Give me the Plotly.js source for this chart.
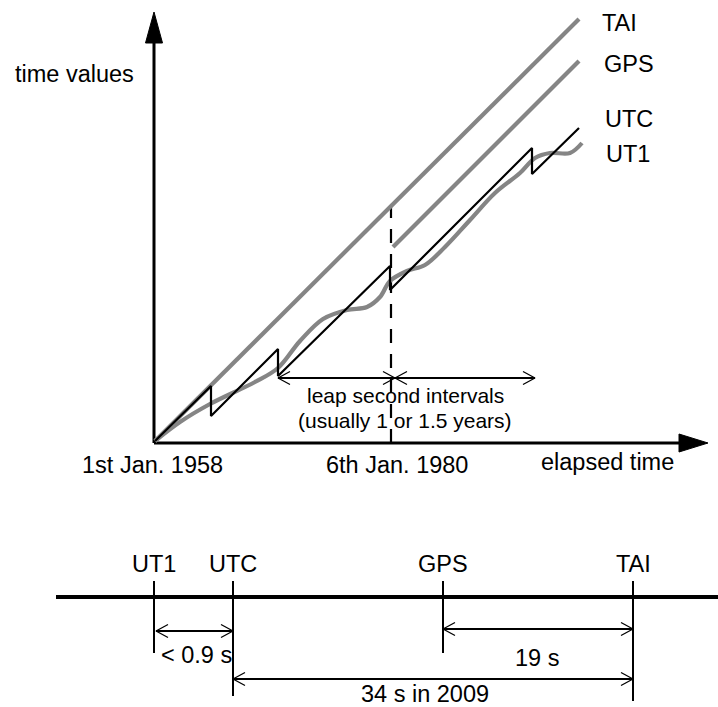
<!DOCTYPE html>
<html>
<head>
<meta charset="utf-8">
<script src="https://cdn.plot.ly/plotly-3.0.1.min.js"></script>
<style>html,body{margin:0;padding:0;background:#fff;}#chart{width:718px;height:707px;}</style>
</head>
<body>
<div id="chart"></div>
<script>
// ---- Upper diagram: time values vs elapsed time (origin = 1st Jan. 1958) ----
const taiX = [0, 424];
const taiY = [0, 422];
const gpsX = [238, 424];
const gpsY = [194, 380];
const utcX = [0, 56, 56, 123, 123, 235, 235, 377, 377, 424];
const utcY = [0, 55, 25, 92, 65, 175, 151, 293, 267, 313];
const ut1X = [0, 25, 55, 100, 123, 145, 168, 192, 212, 225, 235, 252, 270, 290, 315, 340, 365, 380, 395, 415, 427];
const ut1Y = [0, 19, 37, 59, 73, 100, 122, 131, 134, 144, 160, 170, 176, 194, 221, 248, 268, 283, 288, 288, 298];
const gpsEpochX = 236;          // 6th Jan. 1980
const gpsEpochTop = 234;
const seriesLabels = ["TAI", "GPS", "UTC", "UT1"];
const seriesLabelY = [418, 377, 322, 287];
const seriesLabelX = [445, 447, 448, 449];
const dateLabels = ["1st Jan. 1958", "6th Jan. 1980"];
const dateLabelX = [-3, 242];
const leapArrow = {y: 63, x0: 123, xm: 240, x1: 380};

// ---- Lower diagram: offsets between scales ----
const scaleNames = ["UT1", "UTC", "GPS", "TAI"];
const scalePos = [-1, 78, 288, 478];
const tickBottom = [-212, -255, -212, -260];
const offsetLabels = ["< 0.9 s", "19 s", "34 s in 2009"];
const offsetFrom = [1, 288, 78];
const offsetTo = [78, 478, 478];
const offsetY = [-190, -188, -238];
const offsetLabelX = [41, 382, 270];
const offsetLabelY = [-214, -217, -253];

const GRAY = "#858585";
const FAM = "Liberation Sans, Arial, Helvetica, sans-serif";
const FONT = {family: FAM, size: 23.5, color: "#000"};
const FONT_SMALL = {family: FAM, size: 21, color: "#000"};

const traces = [];
function line(xs, ys, color, width, dash) {
  traces.push({x: xs, y: ys, mode: "lines", type: "scatter", hoverinfo: "skip",
    line: {color: color, width: width, dash: dash || "solid"}});
}
function openHead(tipX, y, dir) {           // dir = +1 points right, -1 points left
  const L = 12, H = 6.5;
  line([tipX - dir * L, tipX, tipX - dir * L], [y + H, y, y - H], "#000", 1.3);
}
function dblArrow(x0, x1, y) {
  line([x0, x1], [y, y], "#000", 2);
  openHead(x0, y, -1);
  openHead(x1, y, 1);
}

// axes of upper diagram
line([-1, -1], [-2, 400], "#000", 3);
line([-1, 527], [-2, -2], "#000", 3);
traces.push({x: [-9.5, -1, 7.5, -9.5], y: [398, 429, 398, 398], mode: "lines", fill: "toself",
  fillcolor: "#000", line: {color: "#000", width: 1}, hoverinfo: "skip", type: "scatter"});
traces.push({x: [524, 553, 524, 524], y: [7, -2, -11, 7], mode: "lines", fill: "toself",
  fillcolor: "#000", line: {color: "#000", width: 1}, hoverinfo: "skip", type: "scatter"});

// dashed GPS epoch line
line([gpsEpochX, gpsEpochX], [-2, gpsEpochTop], "#000", 2.2, "14px,11px");

// series
line(taiX, taiY, GRAY, 4.2);
line(gpsX, gpsY, GRAY, 4.2);
traces.push({x: ut1X, y: ut1Y, mode: "lines", type: "scatter", hoverinfo: "skip",
  line: {color: GRAY, width: 4.2, shape: "spline", smoothing: 1}});
line(utcX, utcY, "#000", 2.2);

// leap second interval arrows
line([leapArrow.x0, leapArrow.x1], [leapArrow.y, leapArrow.y], "#000", 2);
openHead(leapArrow.x0, leapArrow.y, -1);
openHead(leapArrow.xm, leapArrow.y, 1);
openHead(leapArrow.xm, leapArrow.y, -1);
openHead(leapArrow.x1, leapArrow.y, 1);

// lower diagram
line([-99, 563], [-156, -156], "#000", 4);
for (let i = 0; i < scaleNames.length; i++) {
  line([scalePos[i], scalePos[i]], [-140, tickBottom[i]], "#000", 2);
}
for (let i = 0; i < offsetLabels.length; i++) {
  dblArrow(offsetFrom[i], offsetTo[i], offsetY[i]);
}

const ann = [];
function txt(t, x, y, xa, f) {
  ann.push({text: t, x: x, y: y, xref: "x", yref: "y", showarrow: false,
    xanchor: xa || "center", yanchor: "middle", font: f || FONT});
}
txt("time values", -142, 367, "left");
for (let i = 0; i < seriesLabels.length; i++) txt(seriesLabels[i], seriesLabelX[i], seriesLabelY[i], "left");
txt("leap second intervals", 250, 46, "center", FONT_SMALL);
txt("(usually 1 or 1.5 years)", 250, 21, "center", FONT_SMALL);
for (let i = 0; i < dateLabels.length; i++) txt(dateLabels[i], dateLabelX[i], -24);
txt("elapsed time", 452, -21);
for (let i = 0; i < scaleNames.length; i++) txt(scaleNames[i], scalePos[i], -123);
for (let i = 0; i < offsetLabels.length; i++) txt(offsetLabels[i], offsetLabelX[i], offsetLabelY[i]);

const layout = {
  width: 718, height: 707,
  margin: {l: 0, r: 0, t: 0, b: 0, pad: 0},
  paper_bgcolor: "#fff", plot_bgcolor: "#fff",
  showlegend: false,
  xaxis: {range: [-155, 563], visible: false, fixedrange: true},
  yaxis: {range: [-266, 441], visible: false, fixedrange: true},
  annotations: ann
};
Plotly.newPlot("chart", traces, layout, {staticPlot: true, displayModeBar: false});
</script>
</body>
</html>
